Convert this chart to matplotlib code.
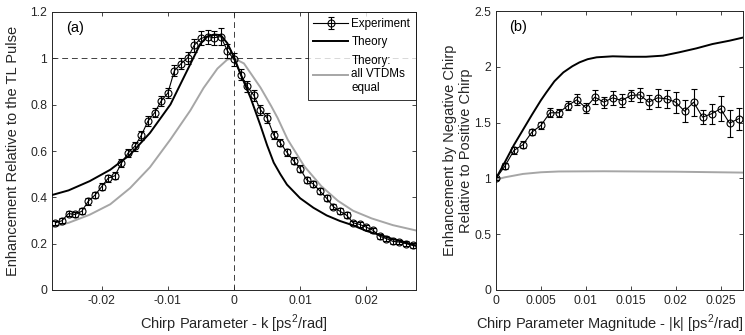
import numpy as np
import matplotlib
matplotlib.use('Agg')
import matplotlib.pyplot as plt

plt.rcParams['font.family'] = ['Liberation Sans', 'DejaVu Sans']
plt.rcParams['mathtext.fontset'] = 'custom'
plt.rcParams['mathtext.rm'] = 'Liberation Sans'

# ---- (a) 数据：啁啾参数 k 与增强 ----
k_exp = [-0.027, -0.026, -0.025, -0.024, -0.023, -0.022, -0.021, -0.020, -0.019, -0.018,
         -0.017, -0.016, -0.015, -0.014, -0.013, -0.012, -0.011, -0.010, -0.009, -0.008,
         -0.007, -0.006, -0.005, -0.004, -0.003, -0.002, -0.001, 0.000, 0.001, 0.002,
         0.003, 0.004, 0.005, 0.006, 0.007, 0.008, 0.009, 0.010, 0.011, 0.012,
         0.013, 0.014, 0.015, 0.016, 0.017, 0.018, 0.019, 0.020, 0.021, 0.022,
         0.023, 0.024, 0.025, 0.026, 0.027]
enh_exp = [0.290, 0.299, 0.330, 0.326, 0.340, 0.384, 0.410, 0.446, 0.483, 0.493,
           0.548, 0.591, 0.620, 0.668, 0.729, 0.765, 0.816, 0.850, 0.947, 0.977,
           1.002, 1.057, 1.086, 1.094, 1.089, 1.094, 1.033, 0.995, 0.930, 0.879,
           0.840, 0.778, 0.743, 0.669, 0.635, 0.594, 0.558, 0.523, 0.475, 0.457,
           0.427, 0.396, 0.360, 0.340, 0.323, 0.290, 0.283, 0.271, 0.258, 0.232,
           0.222, 0.210, 0.207, 0.200, 0.193]
enh_err = [0.010, 0.010, 0.012, 0.012, 0.012, 0.015, 0.015, 0.015, 0.015, 0.015,
           0.018, 0.018, 0.020, 0.020, 0.020, 0.020, 0.022, 0.022, 0.025, 0.025,
           0.025, 0.028, 0.030, 0.030, 0.030, 0.035, 0.030, 0.028, 0.025, 0.025,
           0.025, 0.022, 0.020, 0.018, 0.015, 0.015, 0.015, 0.015, 0.013, 0.013,
           0.013, 0.012, 0.012, 0.012, 0.012, 0.010, 0.010, 0.010, 0.010, 0.010,
           0.010, 0.010, 0.010, 0.010, 0.010]

k_theory = [-0.0275, -0.025, -0.0218, -0.0187, -0.0157, -0.0127, -0.0096, -0.0081, -0.0066, -0.0051,
            -0.004, -0.003, -0.002, -0.001, 0.0, 0.001, 0.0025, 0.004, 0.005, 0.006,
            0.007, 0.008, 0.010, 0.012, 0.014, 0.016, 0.018, 0.020, 0.022, 0.024,
            0.026, 0.0275]
enh_theory = [0.410, 0.430, 0.470, 0.519, 0.584, 0.678, 0.801, 0.888, 0.975, 1.062,
              1.095, 1.103, 1.100, 1.065, 1.005, 0.932, 0.830, 0.710, 0.625, 0.550,
              0.500, 0.455, 0.396, 0.355, 0.322, 0.298, 0.279, 0.255, 0.238, 0.220,
              0.205, 0.190]

k_equal = [-0.0275, -0.025, -0.0218, -0.0187, -0.0157, -0.0127, -0.0096, -0.0066, -0.0046, -0.0025,
           -0.001, 0.0, 0.0015, 0.004, 0.0056, 0.0066, 0.0081, 0.0106, 0.0132, 0.0157,
           0.018, 0.0208, 0.024, 0.0275]
enh_equal = [0.272, 0.290, 0.325, 0.370, 0.440, 0.530, 0.650, 0.775, 0.872, 0.956,
             0.995, 1.000, 0.978, 0.874, 0.795, 0.742, 0.650, 0.535, 0.448, 0.385,
             0.342, 0.309, 0.280, 0.257]

# ---- (b) 数据：|k| 与负/正啁啾比 ----
absk_exp = [0.000, 0.001, 0.002, 0.003, 0.004, 0.005, 0.006, 0.007, 0.008, 0.009,
            0.010, 0.011, 0.012, 0.013, 0.014, 0.015, 0.016, 0.017, 0.018, 0.019,
            0.020, 0.021, 0.022, 0.023, 0.024, 0.025, 0.026, 0.027]
ratio_exp = [1.000, 1.111, 1.251, 1.302, 1.415, 1.475, 1.588, 1.588, 1.653, 1.704,
             1.633, 1.728, 1.683, 1.722, 1.698, 1.743, 1.749, 1.683, 1.722, 1.713,
             1.683, 1.602, 1.683, 1.549, 1.579, 1.624, 1.495, 1.534]
ratio_err = [0.010, 0.030, 0.030, 0.030, 0.030, 0.030, 0.040, 0.035, 0.040, 0.050,
             0.045, 0.060, 0.050, 0.060, 0.060, 0.050, 0.065, 0.060, 0.080, 0.080,
             0.095, 0.100, 0.120, 0.060, 0.090, 0.110, 0.120, 0.100]

absk_theory = [0.0, 0.001, 0.002, 0.003, 0.004, 0.005, 0.0056, 0.0065, 0.0075, 0.0085,
               0.0093, 0.0102, 0.0112, 0.013, 0.0149, 0.0167, 0.0186, 0.0204, 0.0223, 0.0241,
               0.026, 0.0275]
ratio_theory = [1.000, 1.147, 1.300, 1.435, 1.570, 1.700, 1.770, 1.870, 1.950, 2.005,
                2.040, 2.068, 2.085, 2.094, 2.090, 2.090, 2.100, 2.130, 2.165, 2.204,
                2.234, 2.262]

absk_equal = [0.0, 0.001, 0.002, 0.003, 0.005, 0.007, 0.012, 0.020, 0.0275]
ratio_equal = [0.990, 1.010, 1.025, 1.040, 1.055, 1.062, 1.064, 1.060, 1.052]

W, H = 745, 335
fig = plt.figure(figsize=(W / 100, H / 100), dpi=100)
ax1 = fig.add_axes([52 / W, 45 / H, 364 / W, 278 / H])
ax2 = fig.add_axes([496 / W, 45 / H, 247 / W, 279 / H])

axis_col = '#262626'
gray = '#a6a6a6'
fs = 8.7

def style(ax):
    ax.tick_params(direction='in', top=True, right=True, length=3, width=0.6,
                   colors=axis_col, labelsize=fs, labelcolor=axis_col)
    for s in ax.spines.values():
        s.set_linewidth(0.7)
        s.set_color(axis_col)

# ---- 左图 ----
ax1.axhline(1, color='#404040', ls=(0, (6, 4)), lw=0.7, zorder=1)
ax1.axvline(0, color='#404040', ls=(0, (6, 4)), lw=0.7, zorder=1)
h_exp = ax1.errorbar(k_exp, enh_exp, yerr=enh_err, fmt='-o', color='k', lw=0.8, elinewidth=0.8,
                     capsize=2.2, capthick=0.8, markersize=5, markerfacecolor='none',
                     markeredgewidth=0.8, label='Experiment', zorder=4)
h_th, = ax1.plot(k_theory, enh_theory, color='k', lw=1.4, label='Theory', zorder=3)
h_eq, = ax1.plot(k_equal, enh_equal, color=gray, lw=1.4, label='Theory:\nall VTDMs\nequal', zorder=2)
ax1.set_xlim(-0.0275, 0.0275)
ax1.set_ylim(0, 1.2)
ax1.set_xticks([-0.02, -0.01, 0, 0.01, 0.02])
ax1.set_xticklabels(['-0.02', '-0.01', '0', '0.01', '0.02'])
ax1.set_yticks([0, 0.2, 0.4, 0.6, 0.8, 1.0, 1.2])
ax1.set_yticklabels(['0', '0.2', '0.4', '0.6', '0.8', '1', '1.2'])
ax1.set_xlabel('Chirp Parameter - k [ps$^2$/rad]', fontsize=10.5, color=axis_col)
ax1.set_ylabel('Enhancement Relative to the TL Pulse', fontsize=10.5, color=axis_col)
ax1.yaxis.set_label_coords(-0.088, 0.5)
ax1.text(0.04, 0.944, '(a)', transform=ax1.transAxes, fontsize=10.5, color='k', va='center')
style(ax1)
leg = ax1.legend([h_exp, h_th, h_eq], ['Experiment', 'Theory', 'Theory:\nall VTDMs\nequal'],
                 loc='upper right', fontsize=8.4, frameon=True, fancybox=False,
                 borderaxespad=0, handlelength=3.0, handletextpad=0.25,
                 labelspacing=0.55, borderpad=0.5)
leg.get_frame().set_edgecolor('k')
leg.get_frame().set_linewidth(0.7)

# ---- 右图 ----
ax2.errorbar(absk_exp, ratio_exp, yerr=ratio_err, fmt='-o', color='k', lw=0.8, elinewidth=0.8,
             capsize=2.2, capthick=0.8, markersize=5, markerfacecolor='none',
             markeredgewidth=0.8, zorder=4)
ax2.plot(absk_theory, ratio_theory, color='k', lw=1.4, zorder=3)
ax2.plot(absk_equal, ratio_equal, color=gray, lw=1.4, zorder=2)
ax2.set_xlim(0, 0.0275)
ax2.set_ylim(0, 2.5)
ax2.set_xticks([0, 0.005, 0.01, 0.015, 0.02, 0.025])
ax2.set_xticklabels(['0', '0.005', '0.01', '0.015', '0.02', '0.025'])
ax2.set_yticks([0, 0.5, 1, 1.5, 2, 2.5])
ax2.set_yticklabels(['0', '0.5', '1', '1.5', '2', '2.5'])
ax2.set_xlabel('Chirp Parameter Magnitude - |k| [ps$^2$/rad]', fontsize=10.5, color=axis_col)
ax2.xaxis.label.set_x(0.462)
ax2.set_ylabel('Enhancement by Negative Chirp\nRelative to Positive Chirp', fontsize=10.5,
               color=axis_col)
ax2.yaxis.set_label_coords(-0.092, 0.5)
ax2.text(0.053, 0.944, '(b)', transform=ax2.transAxes, fontsize=10.5, color='k', va='center')
style(ax2)

fig.savefig('out.png', dpi=100)
